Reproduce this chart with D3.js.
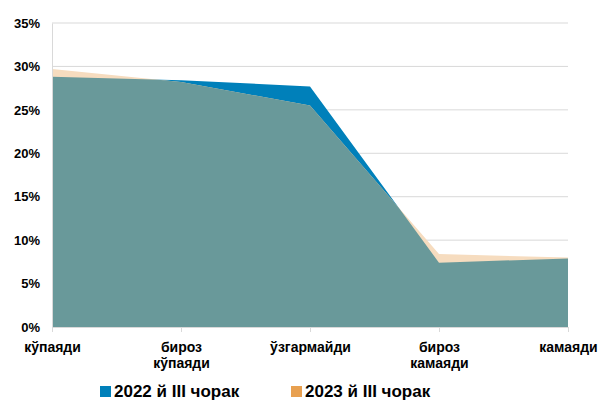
<!DOCTYPE html>
<html><head><meta charset="utf-8">
<script src="https://cdn.jsdelivr.net/npm/d3@7"></script>
<style>body{margin:0;background:#fff}svg{display:block}text{font-family:"Liberation Sans",Arial,sans-serif;font-weight:bold;fill:#000}</style>
</head><body><svg id="c" width="604" height="401"></svg>
<script>
const categories = [["кўпаяди"], ["бироз","кўпаяди"], ["ўзгармайди"], ["бироз","камаяди"], ["камаяди"]];
const series2022 = [28.8, 28.4, 27.7, 7.4, 7.9];
const series2023 = [29.7, 28.2, 25.5, 8.4, 8.0];
const seriesNames = ["2022 й III чорак", "2023 й III чорак"];
const yTicks = [0, 5, 10, 15, 20, 25, 30, 35];

const svg = d3.select("#c");
const x = d3.scalePoint().domain(d3.range(categories.length)).range([52, 568]);
const y = d3.scaleLinear().domain([0, 35]).range([327, 23]);

// gridlines
svg.append("g").selectAll("line").data(yTicks.slice(1)).join("line")
  .attr("x1", 52).attr("x2", 568).attr("y1", d => y(d)).attr("y2", d => y(d))
  .attr("stroke", "#d9d9d9").attr("stroke-width", 1);

const area = d3.area().x((d, i) => x(i)).y0(y(0)).y1(d => y(d));
const defs = svg.append("defs");
defs.append("clipPath").attr("id", "clipBlue").append("path").attr("d", area(series2022));

svg.append("path").attr("d", area(series2022)).attr("fill", "#0080BA");
svg.append("path").attr("d", area(series2023)).attr("fill", "#F6DCBF");
svg.append("path").attr("d", area(series2023)).attr("fill", "#69999A").attr("clip-path", "url(#clipBlue)");

// y axis
const ya = svg.append("g").attr("transform", "translate(52,0)")
  .call(d3.axisLeft(y).tickValues(yTicks).tickFormat(d => d + "%").tickSize(0).tickPadding(12));
ya.select(".domain").attr("stroke", "#d9d9d9");
ya.selectAll("text").attr("font-size", 13).attr("font-family", "Liberation Sans, Arial, sans-serif").attr("font-weight", "bold").attr("fill", "#000");

// x axis
const xa = svg.append("g").attr("transform", "translate(0,327)")
  .call(d3.axisBottom(x).tickSize(5).tickFormat(""));
xa.select(".domain").attr("stroke", "#d9d9d9");
xa.selectAll(".tick line").attr("stroke", "#d9d9d9");
xa.selectAll(".tick").each(function(d) {
  const t = d3.select(this).append("text").attr("text-anchor", "middle").attr("font-size", 14)
    .attr("font-family", "Liberation Sans, Arial, sans-serif").attr("font-weight", "bold").attr("fill", "#000");
  categories[d].forEach((s, j) => t.append("tspan").attr("x", 0).attr("y", 25 + j * 16).text(s));
});

// legend
const legColors = ["#0080BA", "#E8A050"];
const legX = [100, 291];
seriesNames.forEach((n, i) => {
  svg.append("rect").attr("x", legX[i]).attr("y", 386).attr("width", 11).attr("height", 11).attr("fill", legColors[i]);
  svg.append("text").attr("x", legX[i] + 14).attr("y", 397).attr("font-size", 17).text(n);
});
</script></body></html>
